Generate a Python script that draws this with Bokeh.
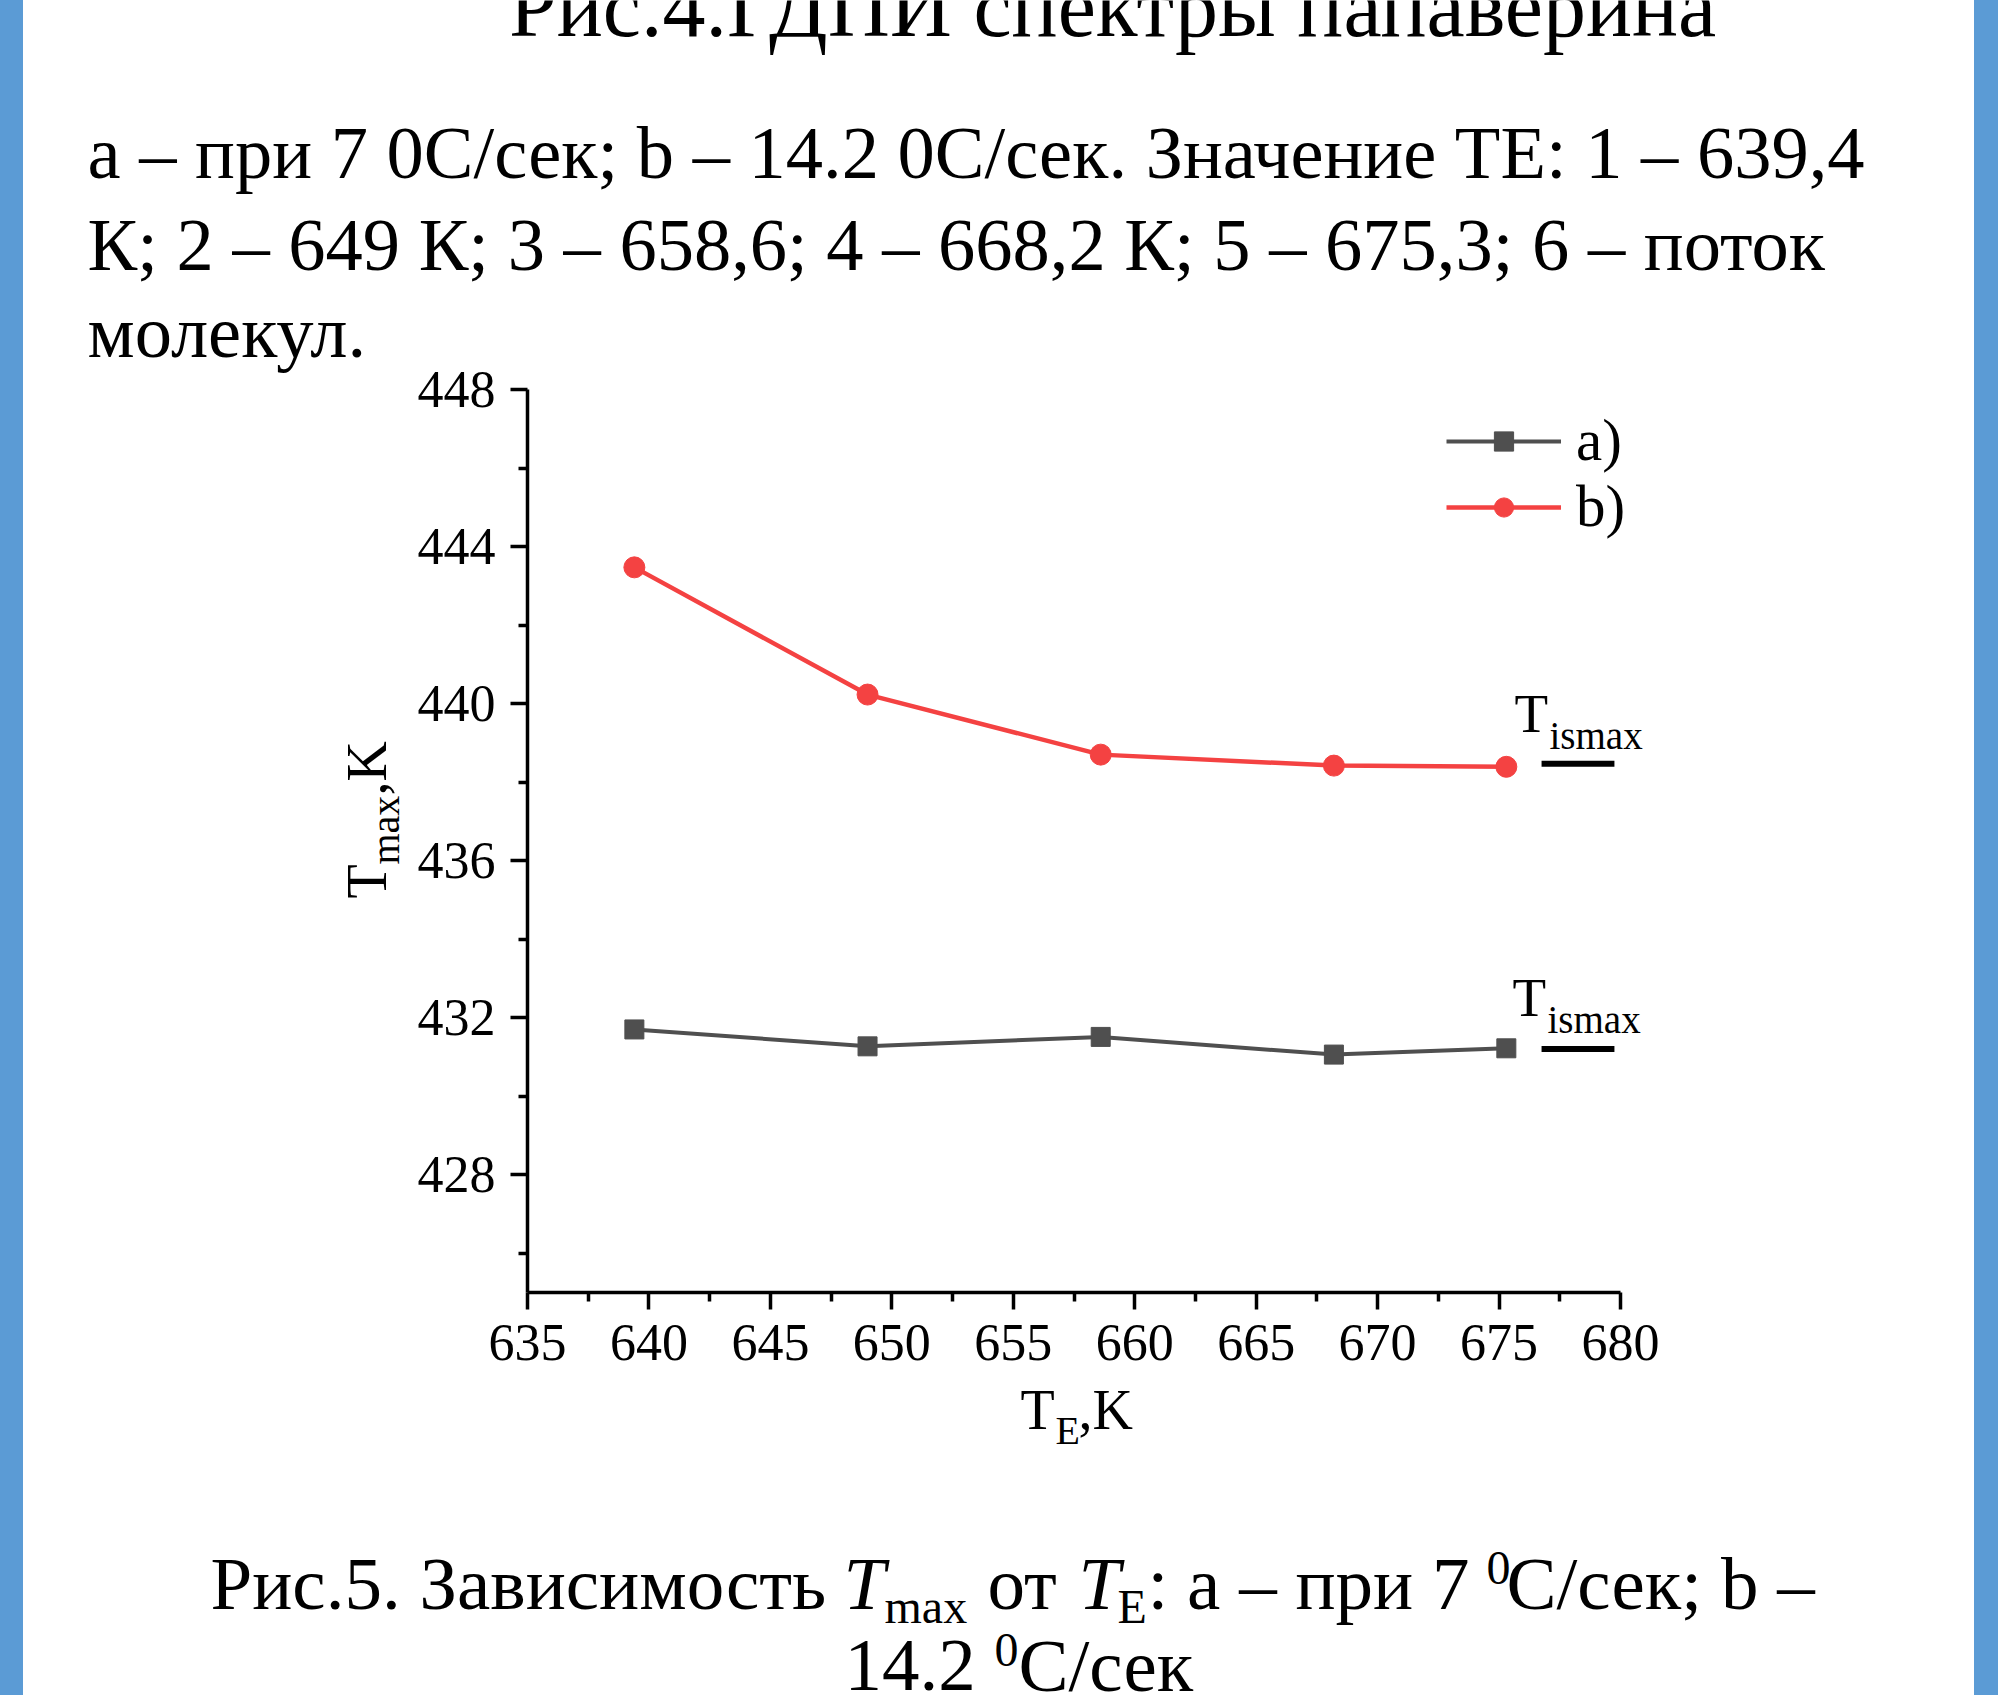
import math
from bokeh.plotting import figure
from bokeh.models import (Label, Legend, LegendItem, FixedTicker, ColumnDataSource,
                          Div, Range1d, LinearAxis)
from bokeh.layouts import row
from bokeh.embed import file_html
from bokeh.resources import INLINE

# ---------------- data ----------------
te = [639.4, 649.0, 658.6, 668.2, 675.3]                 # T_E, K
tmax_a = [431.70, 431.27, 431.51, 431.06, 431.22]        # a) 7 C/s
tmax_b = [443.47, 440.23, 438.70, 438.42, 438.39]        # b) 14.2 C/s
series_names = ["a)", "b)"]
tismax_levels = [431.20, 438.47]                         # T_ismax marks (a, b)
tismax_x0 = [676.75, 676.75]
tismax_x1 = [679.75, 679.75]

x_ticks = [635, 640, 645, 650, 655, 660, 665, 670, 675, 680]
x_minor = [637.5, 642.5, 647.5, 652.5, 657.5, 662.5, 667.5, 672.5, 677.5]
y_ticks = [428, 432, 436, 440, 444, 448]
y_minor = [426, 430, 434, 438, 442, 446]

title_top = "Рис.4.ГДПИ спектры папаверина"
para_lines = [
    "а – при 7 0С/сек; b – 14.2 0С/сек. Значение ТЕ: 1 – 639,4",
    "К; 2 – 649 К; 3 – 658,6; 4 – 668,2 К; 5 – 675,3; 6 – поток",
    "молекул.",
]

# ---------------- layout constants ----------------
FONT = "Liberation Serif"
GRAY = "#4f4f4f"
RED = "#f44242"
BLUE = "#5b9bd5"
BAR_L, BAR_R = 23, 24
W, H = 1951, 1695
OX, OY = BAR_L, 0                       # page position of the figure
FL, FR, FT, FB = 527, 1620, 389, 1292   # axes box in page px
XR = (635, 680)
YR = (425, 448)
BASE_SHIFT = 0.34                       # baseline correction (em)


def dx(px):
    return XR[0] + (px - FL) * (XR[1] - XR[0]) / (FR - FL)


def dy(py):
    return YR[1] - (py - FT) * (YR[1] - YR[0]) / (FB - FT)


p = figure(width=W, height=H,
           x_range=Range1d(dx(OX), dx(OX + W)),
           y_range=Range1d(dy(OY + H), dy(OY)),
           x_axis_location=None, y_axis_location=None,
           output_backend="svg", toolbar_location=None, min_border=0)
p.outline_line_color = None
p.xgrid.visible = False
p.ygrid.visible = False
p.background_fill_color = "white"
p.border_fill_color = "white"

xaxis = LinearAxis(fixed_location=YR[0], bounds=XR,
                   ticker=FixedTicker(ticks=x_ticks, minor_ticks=x_minor))
yaxis = LinearAxis(fixed_location=XR[0], bounds=YR,
                   ticker=FixedTicker(ticks=y_ticks, minor_ticks=y_minor))
for ax in (xaxis, yaxis):
    ax.axis_line_width = 3.5
    ax.axis_line_color = "black"
    ax.major_tick_line_width = 3.5
    ax.minor_tick_line_width = 3.5
    ax.major_tick_line_color = "black"
    ax.minor_tick_line_color = "black"
    ax.major_tick_out = 17
    ax.major_tick_in = 0
    ax.minor_tick_out = 9
    ax.minor_tick_in = 0
    ax.major_label_text_font = FONT
    ax.major_label_text_font_size = "52px"
    ax.major_label_text_color = "black"
xaxis.major_label_standoff = 15
yaxis.major_label_standoff = 15
p.add_layout(xaxis, "below")
p.add_layout(yaxis, "left")

src_a = ColumnDataSource(dict(x=te, y=tmax_a))
src_b = ColumnDataSource(dict(x=te, y=tmax_b))
la = p.line("x", "y", source=src_a, line_color=GRAY, line_width=4)
sa = p.scatter("x", "y", source=src_a, marker="square", size=19,
               fill_color=GRAY, line_color=GRAY)
lb = p.line("x", "y", source=src_b, line_color=RED, line_width=4.5)
sb = p.scatter("x", "y", source=src_b, marker="circle", size=21,
               fill_color=RED, line_color=RED)
p.segment(x0=tismax_x0, y0=tismax_levels, x1=tismax_x1, y1=tismax_levels,
          line_color="black", line_width=6)

# one legend per series so that the row pitch matches the reference
LEG_FONT = 59
row_h = 1.167 * LEG_FONT
for name, rends, cy in ((series_names[0], [la, sa], 441),
                        (series_names[1], [lb, sb], 507)):
    lg = Legend(items=[LegendItem(label=name, renderers=rends)],
                location=(1446 - OX, H - (cy + row_h / 2)),
                glyph_width=115, glyph_height=48, label_standoff=15,
                label_text_font=FONT, label_text_font_size=f"{LEG_FONT}px",
                label_text_color="black", padding=0, spacing=0, margin=0,
                border_line_alpha=0, background_fill_alpha=0)
    p.add_layout(lg)


def txt(s, px, py, size, align="left", style="normal", vertical=False):
    shift = BASE_SHIFT * size
    if vertical:
        x, y, ang = px - shift, py, math.pi / 2
    else:
        x, y, ang = px, py - shift, 0.0
    p.add_layout(Label(x=dx(x), y=dy(y), text=s, text_font=FONT,
                       text_font_size=f"{size}px", text_font_style=style,
                       text_align=align, text_baseline="alphabetic",
                       text_color="black", angle=ang))


# top (clipped) heading and paragraph
txt(title_top, 1112, 36, 86, align="center")
txt(para_lines[0], 87, 178, 74.5)
txt(para_lines[1], 87, 270, 74.5)
txt(para_lines[2], 87, 357, 74.5)

# axis titles with subscripts
txt("T", 386, 898, 56, vertical=True)
txt("max", 399, 864, 40, vertical=True)
txt(",K", 386, 795, 56, vertical=True)
txt("T", 1020, 1429, 56)
txt("E", 1055, 1444, 40)
txt(",K", 1078, 1429, 56)

# T_ismax annotations
txt("T", 1514, 732, 55)
txt("ismax", 1549, 748, 39)
txt("T", 1512, 1016, 55)
txt("ismax", 1547, 1032, 39)

# caption
txt("Рис.5. Зависимость", 210, 1608, 75)
txt("T", 843, 1608, 75, style="italic")
txt("max", 884, 1622, 48)
txt("от", 987, 1608, 75)
txt("T", 1078, 1608, 75, style="italic")
txt("E", 1117, 1622, 48)
txt(": а – при 7", 1147, 1608, 75)
txt("0", 1486, 1584, 48)
txt("С/сек; b –", 1506, 1608, 75)
txt("14.2", 844, 1690, 75)
txt("0", 994, 1666, 48)
txt("С/сек", 1018, 1690, 75)

left_bar = Div(text="", width=BAR_L, height=H, margin=0,
               styles={"background-color": BLUE})
right_bar = Div(text="", width=BAR_R, height=H, margin=0,
                styles={"background-color": BLUE})
layout = row(left_bar, p, right_bar, spacing=0)

open("out.html", "w").write(file_html(layout, INLINE))
